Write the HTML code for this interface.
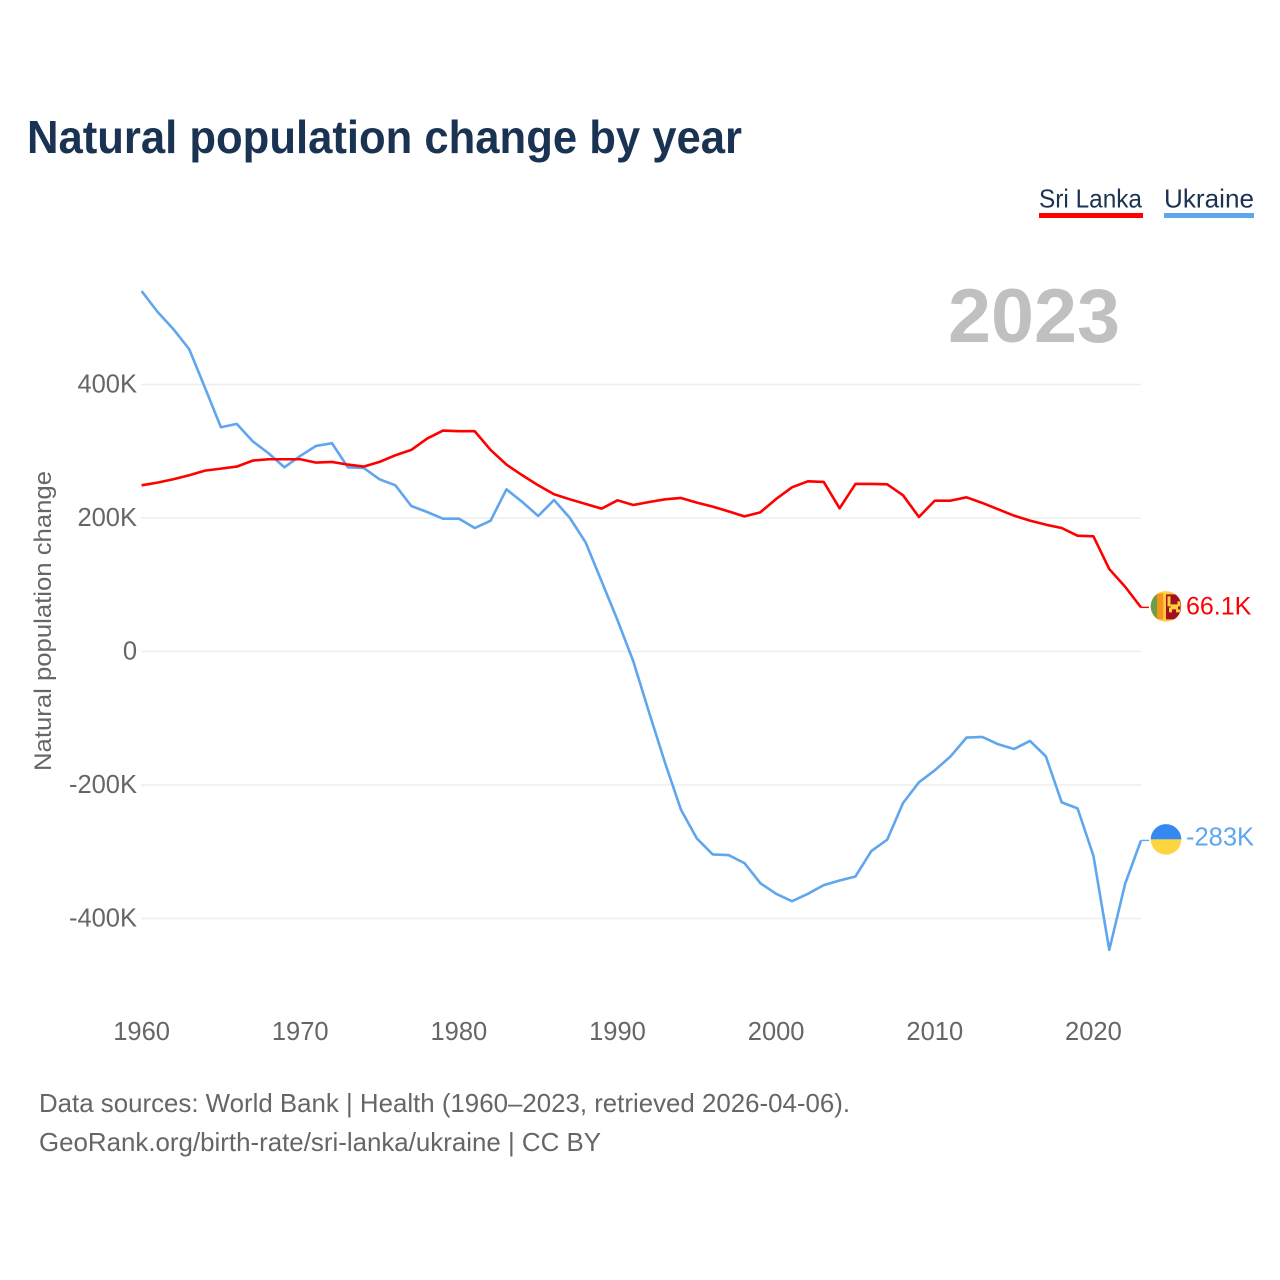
<!DOCTYPE html>
<html lang="en">
<head>
<meta charset="utf-8">
<title>Natural population change by year</title>
<style>
  html, body { margin: 0; padding: 0; background: #fff; }
  svg { display: block; font-family: "Liberation Sans", sans-serif; }
</style>
</head>
<body>
<svg id="chart" xmlns="http://www.w3.org/2000/svg" width="1280" height="1280" viewBox="0 0 1280 1280">
  <defs>
    <clipPath id="flag-clip-lk"><circle cx="0" cy="0" r="15.3"></circle></clipPath>
    <clipPath id="flag-clip-ua"><circle cx="0" cy="0" r="15.3"></circle></clipPath>
  </defs>
  <rect width="1280" height="1280" fill="#fff"></rect>

  <text x="27" y="153" font-size="46" font-weight="bold" fill="#1a3353" textLength="715" lengthAdjust="spacingAndGlyphs">Natural population change by year</text>

  <g>
    <g>
      <text x="1039" y="207.500" font-size="26" fill="#1a3353" textLength="103" lengthAdjust="spacingAndGlyphs">Sri Lanka</text>
      <rect x="1039" y="213" width="104" height="5" fill="#ff0000"></rect>
    </g>
    <g>
      <text x="1164" y="207.500" font-size="26" fill="#1a3353" textLength="90" lengthAdjust="spacingAndGlyphs">Ukraine</text>
      <rect x="1164" y="213" width="90" height="5" fill="#5fa6ee"></rect>
    </g>
  </g>

  <text x="1120" y="342" font-size="76" font-weight="bold" fill="#c0c0c0" text-anchor="end" textLength="172" lengthAdjust="spacingAndGlyphs">2023</text>

  <text transform="translate(51 621) rotate(-90)" font-size="24" fill="#666666" text-anchor="middle" textLength="300" lengthAdjust="spacingAndGlyphs">Natural population change</text>

  <g id="grid"></g>
  <g id="y-axis"></g>
  <g id="x-axis"></g>
  <g id="series"></g>

  <g id="end-lk">
    <g clip-path="url(#flag-clip-lk)">
      <rect x="-16" y="-16" width="32" height="32" fill="#ffd03a"></rect>
      <rect x="-16" y="-13" width="7" height="26" fill="#6a9f45"></rect>
      <rect x="-9" y="-13" width="6.300" height="26" fill="#f7941d"></rect>
      <rect x="0" y="-12" width="14.500" height="25" fill="#a50f26"></rect>
      <path d="M1.500 -10h3v8h7v-3h2.500v5h-2v3h2v3h-4v-3h-4v3h-3v-5h2v-1h-3.500z" fill="#ffd03a"></path>
    </g>
    <text id="end-label-lk" x="20" y="8" font-size="25" fill="#ff0000"></text>
  </g>
  <g id="end-ua">
    <g clip-path="url(#flag-clip-ua)">
      <rect x="-16" y="-16" width="32" height="16" fill="#3388f2"></rect>
      <rect x="-16" y="0" width="32" height="16" fill="#ffd53f"></rect>
    </g>
    <text id="end-label-ua" x="20" y="6" font-size="25.500" fill="#5fa6ee"></text>
  </g>

  <text x="39" y="1112" font-size="26" fill="#666666" textLength="811" lengthAdjust="spacingAndGlyphs">Data sources: World Bank | Health (1960–2023, retrieved 2026-04-06).</text>
  <text x="39" y="1151" font-size="26" fill="#666666" textLength="562" lengthAdjust="spacingAndGlyphs">GeoRank.org/birth-rate/sri-lanka/ukraine | CC BY</text>
</svg>

<script>
const startYear = 1960;
const xTickYears = [1960, 1970, 1980, 1990, 2000, 2010, 2020];
const yTickValues = [400, 200, 0, -200, -400];
const yTickLabels = ['400K', '200K', '0', '-200K', '-400K'];
const sriLanka = [249, 253, 258, 264, 271, 274, 277, 286, 288, 288, 288, 283, 284, 280, 277, 284, 294, 302, 319, 331, 330, 330, 302, 280, 264, 249, 235.5, 228, 221, 214, 226.5, 219.5, 224, 228, 230, 223, 217, 210, 202.5, 208.5, 228.5, 246, 255, 254, 214.5, 251, 251, 250.5, 234, 201.5, 226, 226, 231, 222.5, 213, 203.5, 196, 190, 185, 173.5, 172.5, 123.5, 97, 66.1];
const ukraine = [540, 509, 483, 453, 395, 336, 341, 315, 297, 276, 293, 308, 312, 276, 275, 258, 249, 218, 209, 199, 199, 185, 196, 243, 224, 203, 227, 200, 163, 105, 47, -15, -92, -167, -237, -280, -304, -305, -317, -347, -363, -374, -363, -350, -343, -337, -299, -282, -227, -196, -178, -157, -129, -128, -139, -146, -134, -157, -226, -235, -306, -447, -348, -283];

const svgNS = 'http://www.w3.org/2000/svg';
const xLeft = 141.6, pxPerYear = (1141 - 141.6) / 63;
const yZero = 651.5, pxPerK = 0.6675;
const xScale = function (year) { return xLeft + (year - startYear) * pxPerYear; };
const yScale = function (value) { return yZero - value * pxPerK; };

const grid = document.getElementById('grid');
const yAxis = document.getElementById('y-axis');
const xAxis = document.getElementById('x-axis');
const seriesGroup = document.getElementById('series');

yTickValues.forEach(function (value, i) {
  const line = document.createElementNS(svgNS, 'line');
  
  
  line.setAttribute('x1', 141);
  line.setAttribute('x2', 1141);
  line.setAttribute('y1', yScale(value));
  line.setAttribute('y2', yScale(value));
  line.setAttribute('stroke', '#eeeeee');
  line.setAttribute('stroke-width', '1.4');
  grid.appendChild(line);

  const label = document.createElementNS(svgNS, 'text');
  
  
  label.setAttribute('x', 137);
  label.setAttribute('y', yScale(value) + 8);
  label.setAttribute('font-size', '25.5');
  label.setAttribute('fill', '#666666');
  label.setAttribute('text-anchor', 'end');
  label.textContent = yTickLabels[i];
  yAxis.appendChild(label);
});

xTickYears.forEach(function (year) {
  const label = document.createElementNS(svgNS, 'text');
  
  
  label.setAttribute('x', xScale(year));
  label.setAttribute('y', 1040);
  label.setAttribute('font-size', '25.5');
  label.setAttribute('fill', '#666666');
  label.setAttribute('text-anchor', 'middle');
  label.textContent = String(year);
  xAxis.appendChild(label);
});

function linePoints(values) {
  return values.map(function (v, i) {
    return xScale(startYear + i).toFixed(2) + ',' + yScale(v).toFixed(2);
  }).join(' ');
}

const ukraineLine = document.createElementNS(svgNS, 'polyline');


ukraineLine.setAttribute('points', linePoints(ukraine));
ukraineLine.setAttribute('fill', 'none');
ukraineLine.setAttribute('stroke', '#5fa6ee');
ukraineLine.setAttribute('stroke-width', '2.6');
ukraineLine.setAttribute('stroke-linejoin', 'round');
seriesGroup.appendChild(ukraineLine);

const sriLankaLine = document.createElementNS(svgNS, 'polyline');


sriLankaLine.setAttribute('points', linePoints(sriLanka));
sriLankaLine.setAttribute('fill', 'none');
sriLankaLine.setAttribute('stroke', '#ff0000');
sriLankaLine.setAttribute('stroke-width', '2.6');
sriLankaLine.setAttribute('stroke-linejoin', 'round');
seriesGroup.appendChild(sriLankaLine);

function formatK(v) {
  const rounded = Math.abs(v) >= 100 ? Math.round(v) : Math.round(v * 10) / 10;
  return rounded + 'K';
}

const lastYear = startYear + sriLanka.length - 1;
const lastLk = sriLanka[sriLanka.length - 1];
const lastUa = ukraine[ukraine.length - 1];

const leaderLk = document.createElementNS(svgNS, 'line');


leaderLk.setAttribute('x1', xScale(lastYear));
leaderLk.setAttribute('x2', 1149);
leaderLk.setAttribute('y1', yScale(lastLk));
leaderLk.setAttribute('y2', yScale(lastLk));
leaderLk.setAttribute('stroke', '#ff0000');
leaderLk.setAttribute('stroke-width', '1.4');
seriesGroup.appendChild(leaderLk);

const leaderUa = document.createElementNS(svgNS, 'line');


leaderUa.setAttribute('x1', xScale(lastYear));
leaderUa.setAttribute('x2', 1149);
leaderUa.setAttribute('y1', yScale(lastUa));
leaderUa.setAttribute('y2', yScale(lastUa));
leaderUa.setAttribute('stroke', '#5fa6ee');
leaderUa.setAttribute('stroke-width', '1.4');
seriesGroup.appendChild(leaderUa);

document.getElementById('end-lk').setAttribute('transform', 'translate(1166 ' + (yScale(lastLk) - 1) + ')');
document.getElementById('end-ua').setAttribute('transform', 'translate(1166 ' + (yScale(lastUa) - 1) + ')');
document.getElementById('end-label-lk').textContent = formatK(lastLk);
document.getElementById('end-label-ua').textContent = formatK(lastUa);
</script>
</body>
</html>
